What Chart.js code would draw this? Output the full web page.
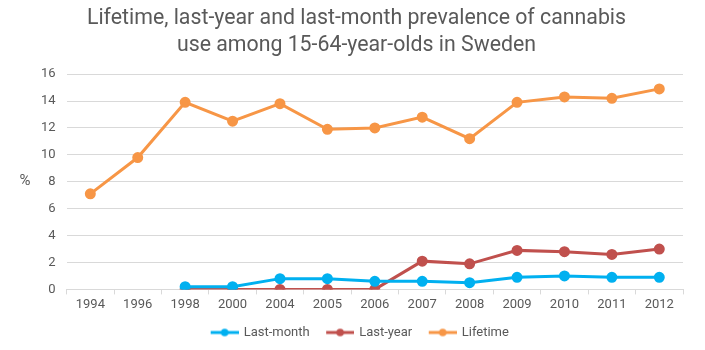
<!DOCTYPE html>
<html><head><meta charset="utf-8">
<script src="https://cdn.jsdelivr.net/npm/chart.js@4/dist/chart.umd.min.js"></script>
<style>html,body{margin:0;padding:0;background:#fff}#wrap{width:705px;height:350px}</style>
</head><body><div id="wrap"><canvas id="c" width="705" height="350"></canvas></div>
<script>
const years = ["1994","1996","1998","2000","2004","2005","2006","2007","2008","2009","2010","2011","2012"];
const lastMonth = [null,null,0.2,0.2,0.8,0.8,0.6,0.6,0.5,0.9,1.0,0.9,0.9];
const lastYear = [null,null,0,0,0,0,0,2.1,1.9,2.9,2.8,2.6,3.0];
const lifetime = [7.1,9.8,13.9,12.5,13.8,11.9,12.0,12.8,11.2,13.9,14.3,14.2,14.9];
const yTicks = [0,2,4,6,8,10,12,14,16];

const FONT = "Roboto, 'Liberation Sans', sans-serif";
const TXT = '#595959';
const COLORS = {m:'#00b0f0', y:'#c0504d', l:'#f79646'};

function legendIcon(color){
  const c = document.createElement('canvas');
  c.width = 36; c.height = 10;
  const g = c.getContext('2d');
  g.strokeStyle = color; g.lineWidth = 3; g.lineCap='butt';
  g.beginPath(); g.moveTo(8,5); g.lineTo(36,5); g.stroke();
  g.fillStyle = color; g.beginPath(); g.arc(22,5,3.8,0,Math.PI*2); g.fill();
  return c;
}
const icons = [legendIcon(COLORS.m), legendIcon(COLORS.y), legendIcon(COLORS.l)];

function ds(label, data, color){
  return {label, data, borderColor:color, backgroundColor:color, borderWidth:3,
    pointRadius:4, pointHoverRadius:4, pointBackgroundColor:color, pointBorderColor:color,
    tension:0, spanGaps:false};
}

const pctPlugin = {
  id:'pct',
  afterDraw(chart){
    const g = chart.ctx;
    g.save();
    g.font = "15px " + FONT;
    g.fillStyle = TXT;
    g.textAlign='center'; g.textBaseline='middle';
    g.fillText('%', 25, 181);
    g.restore();
  }
};

new Chart(document.getElementById('c'), {
  type:'line',
  data:{labels:years, datasets:[ds('Last-month',lastMonth,COLORS.m), ds('Last-year',lastYear,COLORS.y), ds('Lifetime',lifetime,COLORS.l)]},
  options:{
    responsive:false, animation:false,
    layout:{padding:{left:30,right:22,top:0,bottom:1}},
    plugins:{
      title:{display:true, text:['Lifetime, last-year and last-month prevalence of cannabis','use among 15-64-year-olds in Sweden'],
        color:TXT, font:{family:FONT, size:21.3, weight:'normal', lineHeight:1.27}, padding:{top:5,bottom:15}},
      legend:{position:'bottom', labels:{usePointStyle:true, pointStyleWidth:33, color:TXT, font:{family:FONT,size:13}, padding:10, boxWidth:33,
        generateLabels(chart){
          return chart.data.datasets.map((d,i)=>({text:d.label, pointStyle:icons[i], fillStyle:d.borderColor, strokeStyle:d.borderColor, lineWidth:0, hidden:false, datasetIndex:i, fontColor:TXT}));
        }}},
      tooltip:{enabled:false}
    },
    scales:{
      x:{offset:true,
        grid:{offset:true, drawOnChartArea:false, drawTicks:true, tickLength:5, color:'#d9d9d9'},
        border:{color:'#d9d9d9', width:1},
        ticks:{color:TXT, font:{family:FONT,size:13}, padding:3, maxRotation:0}},
      y:{min:0, max:16, afterBuildTicks(s){ s.ticks = yTicks.map(v=>({value:v})); },
        grid:{color:'#d9d9d9', lineWidth:1, drawTicks:false},
        border:{display:false},
        ticks:{color:TXT, font:{family:FONT,size:13}, padding:11}}
    }
  },
  plugins:[pctPlugin]
});
</script></body></html>
